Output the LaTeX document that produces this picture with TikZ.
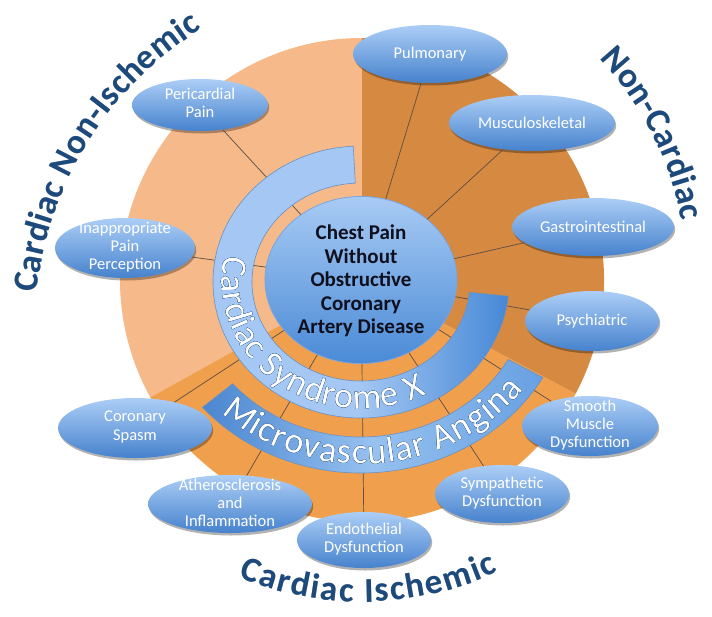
\documentclass[tikz,border=0pt]{standalone}
\usepackage{fontspec}
\setmainfont{Carlito}
\usetikzlibrary{shapes.geometric,shadows,decorations.text}
\definecolor{peach}{RGB}{246,185,137}
\definecolor{darkor}{RGB}{214,137,65}
\definecolor{ischor}{RGB}{240,159,77}
\definecolor{eltop}{RGB}{172,206,246}
\definecolor{elbot}{RGB}{70,130,205}
\definecolor{titleblue}{RGB}{28,74,124}
\definecolor{outl}{RGB}{40,85,140}
\definecolor{sxlight}{RGB}{164,199,243}
\definecolor{sxdark}{RGB}{70,136,214}
\definecolor{mvlight}{RGB}{150,193,240}
\definecolor{mvdark}{RGB}{74,134,208}
\definecolor{mvmid}{RGB}{104,160,226}
\definecolor{bandedge}{RGB}{105,145,195}
\definecolor{connc}{RGB}{90,78,70}
\definecolor{cptop}{RGB}{168,203,244}
\definecolor{cpbot}{RGB}{74,138,214}
\definecolor{cprim}{RGB}{120,165,225}
\definecolor{cptext}{RGB}{15,15,30}
\newcommand\labfont{\fontsize{16.5}{18.3}\selectfont}
\newcommand\cpfont{\bfseries\fontsize{21}{23.5}\selectfont}
\newcommand\bandfont{\fontsize{36}{36}\selectfont}
\newcommand\ttlfont{\bfseries\fontsize{35}{35}\selectfont}
\tikzset{
  ell/.style={ellipse, inner sep=0pt, top color=eltop, bottom color=elbot,
    drop shadow={shadow xshift=1.2pt, shadow yshift=-2.5pt, opacity=0.3, fill=black}},
  eltext/.style={text=white, font=\labfont, align=center, inner sep=0pt},
  conn/.style={draw=connc, line width=0.7pt},
  band/.style={draw=bandedge, line width=0.6pt},
}
\begin{document}
\begin{tikzpicture}[x=1pt,y=1pt]
\useasboundingbox (0,0) rectangle (712,-616);
\fill[white] (0,0) rectangle (712,-616);
\coordinate (O) at (362,-280);
\coordinate (C) at (361,-282);
% sectors
\fill[peach] (O) -- ++(90:242) arc[start angle=90, end angle=209, radius=242] -- cycle;
\fill[ischor] (O) -- ++(209:242) arc[start angle=209, end angle=332, radius=242] -- cycle;
\fill[darkor] (O) -- ++(-28:242) arc[start angle=-28, end angle=90, radius=242] -- cycle;
% centre
\node[ellipse, minimum width=192, minimum height=167, top color=cptop, bottom color=cpbot, draw=cprim, line width=0.8pt] (cp) at (361,-280) {};
\node[font=\cpfont, align=center, text=cptext, inner sep=0pt] (cptxt) at (361,-281) {Chest Pain\\Without\\Obstructive\\Coronary\\Artery Disease};
% outer ellipses
\node[ell, minimum width=136, minimum height=52] (peri) at (200,-105) {};
\node[eltext] at (200,-103) {Pericardial\\Pain};
\node[ell, minimum width=140, minimum height=60] (inap) at (125,-248) {};
\node[eltext] at (125,-247) {Inappropriate\\Pain\\Perception};
\node[ell, minimum width=154, minimum height=58] (pulm) at (430,-54) {};
\node[eltext] at (430,-54) {Pulmonary};
\node[ell, minimum width=166, minimum height=56] (musc) at (532,-123) {};
\node[eltext] at (532,-123) {Musculoskeletal};
\node[ell, minimum width=162, minimum height=58] (gast) at (593,-227) {};
\node[eltext] at (593,-227) {Gastrointestinal};
\node[ell, minimum width=134, minimum height=60] (psyc) at (592,-321) {};
\node[eltext] at (592,-321) {Psychiatric};
\node[ell, minimum width=136, minimum height=60] (smoo) at (590,-426) {};
\node[eltext] at (590,-425) {Smooth\\Muscle\\Dysfunction};
\node[ell, minimum width=134, minimum height=58] (symp) at (502,-494) {};
\node[eltext] at (502,-493) {Sympathetic\\Dysfunction};
\node[ell, minimum width=134, minimum height=56] (endo) at (364,-540) {};
\node[eltext] at (364,-539) {Endothelial\\Dysfunction};
\node[ell, minimum width=164, minimum height=58] (athe) at (230,-504) {};
\node[eltext] at (230,-503) {Atherosclerosis\\and\\Inflammation};
\node[ell, minimum width=154, minimum height=60] (cors) at (135,-428) {};
\node[eltext] at (135,-427) {Coronary\\Spasm};
% connectors
\foreach \n in {peri,inap,pulm,musc,gast,psyc,smoo,symp,endo,athe,cors}
  \draw[conn] (cp) -- (\n);
% bands
\path[band, left color=sxlight, right color=sxdark, middle color=sxlight]
  ([shift={(93:148 and 136)}]C) arc[start angle=93, end angle=354, x radius=148, y radius=136]
  -- ([shift={(354:109 and 99)}]C) arc[start angle=354, end angle=93, x radius=109, y radius=99] -- cycle;
\path[band, left color=mvdark, right color=mvmid, middle color=mvlight]
  ([shift={(221:210 and 191)}]C) arc[start angle=221, end angle=330, x radius=210, y radius=191]
  -- ([shift={(330:170 and 155)}]C) arc[start angle=330, end angle=221, x radius=170, y radius=155] -- cycle;
% band texts (outlined)
\foreach \dx/\dy in {0.8/0,-0.8/0,0/0.8,0/-0.8,0.6/0.6,-0.6/0.6,0.6/-0.6,-0.6/-0.6}{
  \path[shift={(\dx,\dy)}, decorate, decoration={text along path, text={|\bandfont|Cardiac Syndrome X}, text align={fit to path}, text color=outl}]
    ([shift={(168:139 and 127)}]C) arc[start angle=168, end angle=298, x radius=139, y radius=127];
  \path[shift={(\dx,\dy)}, decorate, decoration={text along path, text={|\bandfont|Microvascular Angina}, text align={fit to path}, text color=outl}]
    ([shift={(226:201 and 182)}]C) arc[start angle=226, end angle=324, x radius=201, y radius=182];
}
\path[decorate, decoration={text along path, text={|\bandfont|Cardiac Syndrome X}, text align={fit to path}, text color=white}]
  ([shift={(168:139 and 127)}]C) arc[start angle=168, end angle=298, x radius=139, y radius=127];
\path[decorate, decoration={text along path, text={|\bandfont|Microvascular Angina}, text align={fit to path}, text color=white}]
  ([shift={(226:201 and 182)}]C) arc[start angle=226, end angle=324, x radius=201, y radius=182];
% titles
\coordinate (T) at (390,-330);
\foreach \sh/\col in {{(1.3,-1.6)}/black!30, {(0,0)}/titleblue}{
  \path[shift=\sh, decorate, decoration={text along path, text={|\ttlfont|Cardiac Non-Ischemic}, text align={fit to path}, text color=\col}]
    ([shift={(174:355)}]T) arc[start angle=174, end angle=122, radius=355];
  \path[shift=\sh, decorate, decoration={text along path, text={|\ttlfont|Non-Cardiac}, text align={fit to path}, text color=\col}]
    ([shift={(43:325)}]O) arc[start angle=43, end angle=10.5, radius=325];
  \path[shift=\sh, decorate, decoration={text along path, text={|\ttlfont|Cardiac Ischemic}, text align={fit to path}, text color=\col}]
    ([shift={(247.5:322)}]O) arc[start angle=247.5, end angle=295, radius=322];
}
\end{tikzpicture}
\end{document}
